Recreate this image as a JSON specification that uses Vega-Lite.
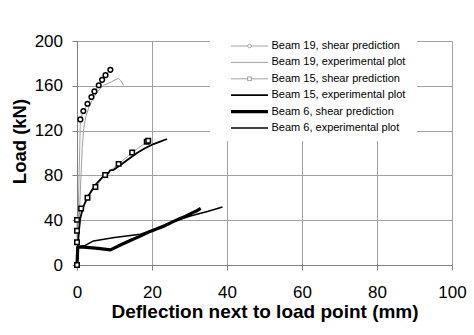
{
  "$schema": "https://vega.github.io/schema/vega-lite/v6.json",
  "width": 375,
  "height": 224,
  "autosize": {"type": "none"},
  "padding": {"left": 77, "top": 41, "right": 22, "bottom": 70},
  "background": "white",
  "config": {
    "view": {"stroke": null},
    "font": "Liberation Sans",
    "axis": {
      "labelFont": "Liberation Sans",
      "labelFontSize": 17,
      "labelColor": "black",
      "titleFont": "Liberation Sans",
      "titleFontWeight": "bold",
      "titleColor": "black",
      "gridColor": "#a0a0a0",
      "gridOpacity": 1,
      "gridWidth": 1,
      "domainColor": "#808080",
      "tickColor": "#808080",
      "tickSize": 5
    },
    "legend": {
      "orient": "none",
      "legendX": 133,
      "legendY": -8,
      "padding": 7,
      "fillColor": "white",
      "labelFont": "Liberation Sans",
      "labelFontSize": 11,
      "labelColor": "black",
      "symbolSize": 1369,
      "symbolType": "M-1,0L1,0",
      "clipHeight": 12,
      "rowPadding": 4.4,
      "symbolOffset": 12,
      "labelOffset": 1.5
    }
  },
  "data": {
    "values": [
      {"series": "Beam 19, shear prediction", "seq": 0, "deflection": 0, "load": 0},
      {"series": "Beam 19, shear prediction", "seq": 1, "deflection": 0.9, "load": 130},
      {"series": "Beam 19, shear prediction", "seq": 2, "deflection": 1.7, "load": 137.5},
      {"series": "Beam 19, shear prediction", "seq": 3, "deflection": 2.8, "load": 144},
      {"series": "Beam 19, shear prediction", "seq": 4, "deflection": 3.85, "load": 150},
      {"series": "Beam 19, shear prediction", "seq": 5, "deflection": 4.65, "load": 155},
      {"series": "Beam 19, shear prediction", "seq": 6, "deflection": 5.8, "load": 160.5},
      {"series": "Beam 19, shear prediction", "seq": 7, "deflection": 6.7, "load": 165.3},
      {"series": "Beam 19, shear prediction", "seq": 8, "deflection": 7.6, "load": 169.5},
      {"series": "Beam 19, shear prediction", "seq": 9, "deflection": 8.9, "load": 174.3},

      {"series": "Beam 19, experimental plot", "seq": 0, "deflection": 0, "load": 0},
      {"series": "Beam 19, experimental plot", "seq": 1, "deflection": 0.5, "load": 35},
      {"series": "Beam 19, experimental plot", "seq": 2, "deflection": 1.0, "load": 75},
      {"series": "Beam 19, experimental plot", "seq": 3, "deflection": 1.4, "load": 105},
      {"series": "Beam 19, experimental plot", "seq": 4, "deflection": 1.8, "load": 122},
      {"series": "Beam 19, experimental plot", "seq": 5, "deflection": 2.4, "load": 133},
      {"series": "Beam 19, experimental plot", "seq": 6, "deflection": 3.2, "load": 141},
      {"series": "Beam 19, experimental plot", "seq": 7, "deflection": 4.2, "load": 148},
      {"series": "Beam 19, experimental plot", "seq": 8, "deflection": 5.2, "load": 153.5},
      {"series": "Beam 19, experimental plot", "seq": 9, "deflection": 6.2, "load": 157.5},
      {"series": "Beam 19, experimental plot", "seq": 10, "deflection": 7.1, "load": 160.5},
      {"series": "Beam 19, experimental plot", "seq": 11, "deflection": 8.2, "load": 162},
      {"series": "Beam 19, experimental plot", "seq": 12, "deflection": 9.2, "load": 163.5},
      {"series": "Beam 19, experimental plot", "seq": 13, "deflection": 10.2, "load": 165.5},
      {"series": "Beam 19, experimental plot", "seq": 14, "deflection": 11.1, "load": 166.5},
      {"series": "Beam 19, experimental plot", "seq": 15, "deflection": 11.7, "load": 164.5},
      {"series": "Beam 19, experimental plot", "seq": 16, "deflection": 12.4, "load": 160.5},

      {"series": "Beam 15, shear prediction", "seq": 0, "deflection": 0, "load": 0},
      {"series": "Beam 15, shear prediction", "seq": 1, "deflection": 0, "load": 20.3},
      {"series": "Beam 15, shear prediction", "seq": 2, "deflection": 0, "load": 30.5},
      {"series": "Beam 15, shear prediction", "seq": 3, "deflection": 0, "load": 40.3},
      {"series": "Beam 15, shear prediction", "seq": 4, "deflection": 1.1, "load": 50.5},
      {"series": "Beam 15, shear prediction", "seq": 5, "deflection": 2.8, "load": 60},
      {"series": "Beam 15, shear prediction", "seq": 6, "deflection": 4.9, "load": 69.7},
      {"series": "Beam 15, shear prediction", "seq": 7, "deflection": 7.5, "load": 80.4},
      {"series": "Beam 15, shear prediction", "seq": 8, "deflection": 11.1, "load": 90.3},
      {"series": "Beam 15, shear prediction", "seq": 9, "deflection": 14.7, "load": 100.4},
      {"series": "Beam 15, shear prediction", "seq": 10, "deflection": 18.6, "load": 110},
      {"series": "Beam 15, shear prediction", "seq": 11, "deflection": 19.0, "load": 111},

      {"series": "Beam 15, experimental plot", "seq": 0, "deflection": 0, "load": 0},
      {"series": "Beam 15, experimental plot", "seq": 1, "deflection": 0.2, "load": 15},
      {"series": "Beam 15, experimental plot", "seq": 2, "deflection": 0.5, "load": 30},
      {"series": "Beam 15, experimental plot", "seq": 3, "deflection": 0.9, "load": 42},
      {"series": "Beam 15, experimental plot", "seq": 4, "deflection": 1.5, "load": 50},
      {"series": "Beam 15, experimental plot", "seq": 5, "deflection": 2.2, "load": 56},
      {"series": "Beam 15, experimental plot", "seq": 6, "deflection": 3.1, "load": 62},
      {"series": "Beam 15, experimental plot", "seq": 7, "deflection": 4.0, "load": 67},
      {"series": "Beam 15, experimental plot", "seq": 8, "deflection": 4.9, "load": 71.5},
      {"series": "Beam 15, experimental plot", "seq": 9, "deflection": 6.0, "load": 75.5},
      {"series": "Beam 15, experimental plot", "seq": 10, "deflection": 7.1, "load": 79.5},
      {"series": "Beam 15, experimental plot", "seq": 11, "deflection": 8.4, "load": 82},
      {"series": "Beam 15, experimental plot", "seq": 12, "deflection": 8.8, "load": 84.5},
      {"series": "Beam 15, experimental plot", "seq": 13, "deflection": 9.8, "load": 85},
      {"series": "Beam 15, experimental plot", "seq": 14, "deflection": 11.5, "load": 89},
      {"series": "Beam 15, experimental plot", "seq": 15, "deflection": 13.5, "load": 94},
      {"series": "Beam 15, experimental plot", "seq": 16, "deflection": 16.0, "load": 100},
      {"series": "Beam 15, experimental plot", "seq": 17, "deflection": 18.0, "load": 104},
      {"series": "Beam 15, experimental plot", "seq": 18, "deflection": 20.4, "load": 108},
      {"series": "Beam 15, experimental plot", "seq": 19, "deflection": 22.0, "load": 110},
      {"series": "Beam 15, experimental plot", "seq": 20, "deflection": 24.0, "load": 112.5},

      {"series": "Beam 6, shear prediction", "seq": 0, "deflection": 0, "load": 0},
      {"series": "Beam 6, shear prediction", "seq": 1, "deflection": 0.1, "load": 8},
      {"series": "Beam 6, shear prediction", "seq": 2, "deflection": 0.2, "load": 16},
      {"series": "Beam 6, shear prediction", "seq": 3, "deflection": 1.8, "load": 16},
      {"series": "Beam 6, shear prediction", "seq": 4, "deflection": 5.0, "load": 15},
      {"series": "Beam 6, shear prediction", "seq": 5, "deflection": 8.9, "load": 13.5},
      {"series": "Beam 6, shear prediction", "seq": 6, "deflection": 12.0, "load": 18.5},
      {"series": "Beam 6, shear prediction", "seq": 7, "deflection": 14.2, "load": 21.8},
      {"series": "Beam 6, shear prediction", "seq": 8, "deflection": 17.0, "load": 26},
      {"series": "Beam 6, shear prediction", "seq": 9, "deflection": 19.5, "load": 30},
      {"series": "Beam 6, shear prediction", "seq": 10, "deflection": 23.1, "load": 34.5},
      {"series": "Beam 6, shear prediction", "seq": 11, "deflection": 25.5, "load": 38.5},
      {"series": "Beam 6, shear prediction", "seq": 12, "deflection": 27.5, "load": 41.5},
      {"series": "Beam 6, shear prediction", "seq": 13, "deflection": 29.0, "load": 43.5},
      {"series": "Beam 6, shear prediction", "seq": 14, "deflection": 31.0, "load": 47},
      {"series": "Beam 6, shear prediction", "seq": 15, "deflection": 32.0, "load": 48.5},
      {"series": "Beam 6, shear prediction", "seq": 16, "deflection": 33.0, "load": 50.5},

      {"series": "Beam 6, experimental plot", "seq": 0, "deflection": 0, "load": 0},
      {"series": "Beam 6, experimental plot", "seq": 1, "deflection": 0.1, "load": 10},
      {"series": "Beam 6, experimental plot", "seq": 2, "deflection": 0.3, "load": 16.5},
      {"series": "Beam 6, experimental plot", "seq": 3, "deflection": 2.2, "load": 17.5},
      {"series": "Beam 6, experimental plot", "seq": 4, "deflection": 4.4, "load": 21.5},
      {"series": "Beam 6, experimental plot", "seq": 5, "deflection": 10.0, "load": 24.5},
      {"series": "Beam 6, experimental plot", "seq": 6, "deflection": 16.9, "load": 27.5},
      {"series": "Beam 6, experimental plot", "seq": 7, "deflection": 20.0, "load": 31},
      {"series": "Beam 6, experimental plot", "seq": 8, "deflection": 24.9, "load": 38},
      {"series": "Beam 6, experimental plot", "seq": 9, "deflection": 30.0, "load": 43.5},
      {"series": "Beam 6, experimental plot", "seq": 10, "deflection": 35.0, "load": 48},
      {"series": "Beam 6, experimental plot", "seq": 11, "deflection": 38.8, "load": 51.8}
    ]
  },
  "encoding": {
    "x": {
      "field": "deflection",
      "type": "quantitative",
      "scale": {"domain": [0, 100], "nice": false},
      "axis": {
        "title": "Deflection next to load point (mm)",
        "titleFontSize": 19,
        "titleBaseline": "alphabetic",
        "titleY": 52,
        "values": [0, 20, 40, 60, 80, 100],
        "labelPadding": 14.5,
        "labelFlush": false
      }
    },
    "y": {
      "field": "load",
      "type": "quantitative",
      "scale": {"domain": [0, 200], "nice": false},
      "axis": {
        "title": "Load (kN)",
        "titleFontSize": 18.5,
        "titleBaseline": "alphabetic",
        "titleAngle": 270,
        "titleAlign": "center",
        "titleX": -52,
        "titleY": 100,
        "values": [0, 40, 80, 120, 160, 200],
        "labelPadding": 9.5
      }
    }
  },
  "layer": [
    {
      "mark": {"type": "line", "strokeCap": "butt", "strokeJoin": "round"},
      "encoding": {
        "order": {"field": "seq", "type": "quantitative"},
        "color": {
          "field": "series",
          "type": "nominal",
          "scale": {
            "domain": ["Beam 19, shear prediction", "Beam 19, experimental plot", "Beam 15, shear prediction", "Beam 15, experimental plot", "Beam 6, shear prediction", "Beam 6, experimental plot"],
            "range": ["#8c8c8c", "#a0a0a0", "#8c8c8c", "#000000", "#000000", "#000000"]
          },
          "legend": {
            "title": "\u00a0\u00a0\u00a0\u00a0\u00a0\u00a0",
            "titleOrient": "right",
            "titleFontSize": 11,
            "titlePadding": 5,
            "encode": {
              "symbols": {
                "update": {
                  "shape": {"signal": "datum.value == 'Beam 19, shear prediction' ? 'M-1,0L-0.1,0M0.1,0L1,0M0.1,0A0.1,0.1 0 1,1 -0.1,0A0.1,0.1 0 1,1 0.1,0' : datum.value == 'Beam 15, shear prediction' ? 'M-1,0L-0.1,0M0.1,0L1,0M-0.1,-0.1L0.1,-0.1L0.1,0.1L-0.1,0.1Z' : 'M-1,0L1,0'"},
                  "stroke": {"signal": "datum.value == 'Beam 19, shear prediction' || datum.value == 'Beam 15, shear prediction' ? '#333333' : scale('color', datum.value)"},
                  "strokeWidth": {"signal": "datum.value == 'Beam 19, shear prediction' || datum.value == 'Beam 15, shear prediction' ? 1.2 : scale('strokeWidth', datum.value)"},
                  "fill": {"value": "white"}
                }
              }
            }
          }
        },
        "strokeWidth": {
          "field": "series",
          "type": "nominal",
          "scale": {
            "type": "ordinal",
            "domain": ["Beam 19, shear prediction", "Beam 19, experimental plot", "Beam 15, shear prediction", "Beam 15, experimental plot", "Beam 6, shear prediction", "Beam 6, experimental plot"],
            "range": [0.8, 1, 0.8, 1.8, 3.2, 1.5]
          },
          "legend": {}
        }
      }
    },
    {
      "transform": [
        {"filter": {"field": "series", "oneOf": ["Beam 19, shear prediction", "Beam 15, shear prediction"]}}
      ],
      "mark": {"type": "point", "filled": true, "fill": "white", "stroke": "black", "strokeWidth": 1.5, "opacity": 1},
      "encoding": {
        "shape": {
          "field": "series",
          "type": "nominal",
          "scale": {"domain": ["Beam 19, shear prediction", "Beam 15, shear prediction"], "range": ["circle", "square"]},
          "legend": null
        },
        "size": {
          "field": "series",
          "type": "nominal",
          "scale": {"type": "ordinal", "domain": ["Beam 19, shear prediction", "Beam 15, shear prediction"], "range": [22, 20]},
          "legend": null
        }
      }
    }
  ]
}
